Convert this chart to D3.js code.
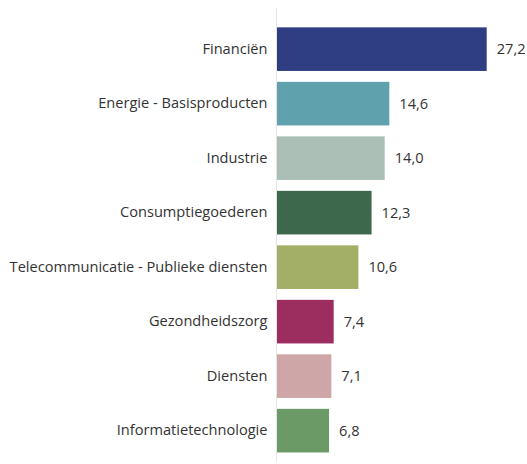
<!DOCTYPE html>
<html>
<head>
<meta charset="utf-8">
<script src="https://cdn.jsdelivr.net/npm/d3@7"></script>
<style>
  body { margin: 0; background: #fff; }
  text { font-family: "Open Sans", "Liberation Sans", sans-serif; fill: #333; }
</style>
</head>
<body>
<div id="my_dataviz"></div>
<script>
  var categories = [
	  "Financiën",
	  "Energie - Basisproducten",
	  "Industrie",
	  "Consumptiegoederen",
	  "Telecommunicatie - Publieke diensten",
	  "Gezondheidszorg",
	  "Diensten",
	  "Informatietechnologie"
  ];
  var values = [27.2, 14.6, 14.0, 12.3, 10.6, 7.4, 7.1, 6.8];
  var colors = ["#2f3e82", "#5fa2ae", "#abbfb7", "#3e684c", "#a3ae66", "#9b2d5f", "#cea6a7", "#6b9a67"];

  var data = categories.map(function(c, i) {
	  return { name: c, value: values[i], color: colors[i] };
  });

  var width = 527, height = 464;
  var x0 = 276.5;
  var fontSize = "14.6px";

  var svg = d3.select("#my_dataviz")
	  .append("svg")
	  .attr("width", width)
	  .attr("height", height);

  // x scale: 27.2 ends at ~487
  var x = d3.scaleLinear()
	  .domain([0, 27.2])
	  .range([x0, 486.7]);

  var y = d3.scaleBand()
	  .domain(categories)
	  .range([21.9, 457.9])
	  .paddingInner(0.2)
	  .paddingOuter(0.1);

  // bars
  svg.selectAll("rect.bar")
	  .data(data)
	  .enter()
	  .append("rect")
	  .attr("class", "bar")
	  .attr("x", x(0))
	  .attr("y", function(d) { return y(d.name); })
	  .attr("width", function(d) { return x(d.value) - x(0); })
	  .attr("height", y.bandwidth())
	  .attr("fill", function(d) { return d.color; });

  // vertical axis line
  svg.append("line")
	  .attr("x1", x0).attr("x2", x0)
	  .attr("y1", 8).attr("y2", 462)
	  .attr("stroke", "#e6e6e6")
	  .attr("stroke-width", 1);

  // category labels
  var yAxis = svg.append("g")
	  .attr("transform", "translate(" + (x0 - 9) + ",0)")
	  .call(d3.axisLeft(y).tickSize(0).tickPadding(0));
  yAxis.select(".domain").remove();
  yAxis.selectAll("text")
	  .style("font-size", fontSize)
	  .style("font-family", "'Open Sans', 'Liberation Sans', sans-serif")
	  .attr("fill", "#333");

  // value labels
  svg.selectAll("text.val")
	  .data(data)
	  .enter()
	  .append("text")
	  .attr("class", "val")
	  .attr("x", function(d) { return x(d.value) + 10; })
	  .attr("y", function(d) { return y(d.name) + y.bandwidth() / 2; })
	  .attr("dy", "0.35em")
	  .style("font-size", fontSize)
	  .text(function(d) { return d3.format(".1f")(d.value).replace(".", ","); });
</script>
</body>
</html>
